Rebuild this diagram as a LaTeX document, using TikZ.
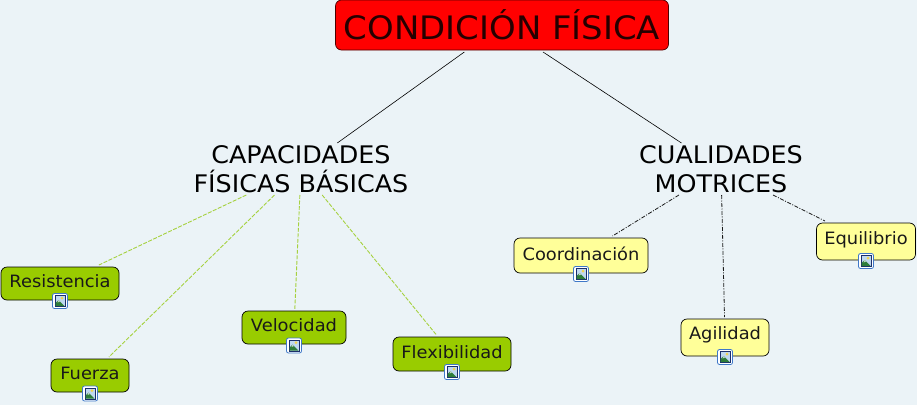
\documentclass[tikz,border=0pt]{standalone}
\usepackage{fontspec}
\setmainfont[FakeStretch=1.05]{DejaVu Sans}
\definecolor{bgc}{HTML}{EBF3F7}
\definecolor{leaf}{HTML}{99CC00}
\definecolor{pale}{HTML}{FFFF99}
\definecolor{glink}{HTML}{A6D13F}
\definecolor{iconblue}{HTML}{3F78C8}
\definecolor{iconnavy}{HTML}{1B2F6B}
\definecolor{iconsky}{HTML}{BFD8F0}
\definecolor{icongreen}{HTML}{2E7D3A}
\definecolor{iconsun}{HTML}{F2D34F}
\tikzset{
  x=1pt,y=-1pt,
  rootbox/.style={draw=black!70!red,fill=red,rounded corners=6pt,line width=0.7pt,minimum width=333pt,minimum height=50pt,inner sep=0pt,outer sep=2pt,font=\fontsize{32.3}{36}\selectfont,text=black!85!red},
  plain/.style={align=center,inner sep=0pt,outer sep=0pt,font=\fontsize{24.2}{29.5}\selectfont,text=black},
  concept/.style={draw=black,rounded corners=6pt,line width=0.7pt,inner sep=0pt,outer sep=2pt,font=\fontsize{17}{20}\selectfont,text=black!90},
  greenbox/.style={concept,fill=leaf},
  yellowbox/.style={concept,fill=pale},
  rootlink/.style={black,line width=0.6pt},
  greenlink/.style={glink,line width=0.9pt,dash pattern=on 4pt off 1.5pt},
  darklink/.style={black!90,line width=0.8pt,dash pattern=on 4pt off 1.5pt on 1pt off 1.5pt},
  imgicon/.pic={
    \draw[iconblue,fill=white,rounded corners=2pt,line width=0.8pt] (-7.5,-7.5) rectangle (7.5,7.5);
    \draw[iconnavy,fill=iconsky,line width=0.9pt] (-5,-5.5) rectangle (5,5.5);
    \fill[iconsun] (2,-2.8) circle (1.5);
    \fill[icongreen] (-4.5,5) -- (-4.5,2) -- (-1.5,-1) -- (4.5,5) -- cycle;
    \fill[white!70!icongreen] (-1.5,-1) -- (0,0.5) -- (-2.5,1.5) -- cycle;
  }
}
\begin{document}
\begin{tikzpicture}
\useasboundingbox[fill=bgc] (0,0) rectangle (917,405);
\node[rootbox] (root) at (502,25) {\raisebox{-5.5pt}{CONDICIÓN FÍSICA}};
\node[plain,minimum width=218pt,minimum height=52pt] (cap) at (301,169) {CAPACIDADES\\FÍSICAS BÁSICAS};
\node[plain,minimum width=160pt,minimum height=52pt] (cual) at (721,169) {CUALIDADES\\MOTRICES};
\node[greenbox,minimum width=118pt,minimum height=33pt] (res) at (60,283.5) {\raisebox{4pt}{Resistencia}};
\node[greenbox,minimum width=78pt,minimum height=33pt] (fue) at (90,375.5) {\raisebox{4pt}{Fuerza}};
\node[greenbox,minimum width=104pt,minimum height=33pt] (vel) at (294,327.5) {\raisebox{4pt}{Velocidad}};
\node[greenbox,minimum width=118pt,minimum height=34pt] (fle) at (452,354) {\raisebox{4pt}{Flexibilidad}};
\node[yellowbox,minimum width=134pt,minimum height=35pt] (coo) at (581,255.5) {\raisebox{3pt}{Coordinación}};
\node[yellowbox,minimum width=88pt,minimum height=37pt] (agi) at (725,337.5) {\raisebox{8pt}{Agilidad}};
\node[yellowbox,minimum width=99pt,minimum height=37pt] (equ) at (866,241.5) {\raisebox{6pt}{Equilibrio}};
\draw[rootlink] (root) -- (cap);
\draw[rootlink] (root) -- (cual);
\draw[greenlink] (cap) -- (res);
\draw[greenlink] (cap) -- (fue);
\draw[greenlink] (cap) -- (vel);
\draw[greenlink] (cap) -- (fle);
\draw[darklink] (cual) -- (coo);
\draw[darklink] (cual) -- (agi);
\draw[darklink] (cual) -- (equ);
\pic at (60,301) {imgicon};
\pic at (90,393.5) {imgicon};
\pic at (294,345.5) {imgicon};
\pic at (452,372) {imgicon};
\pic at (581,274) {imgicon};
\pic at (725,357) {imgicon};
\pic at (866,261) {imgicon};
\end{tikzpicture}
\end{document}
